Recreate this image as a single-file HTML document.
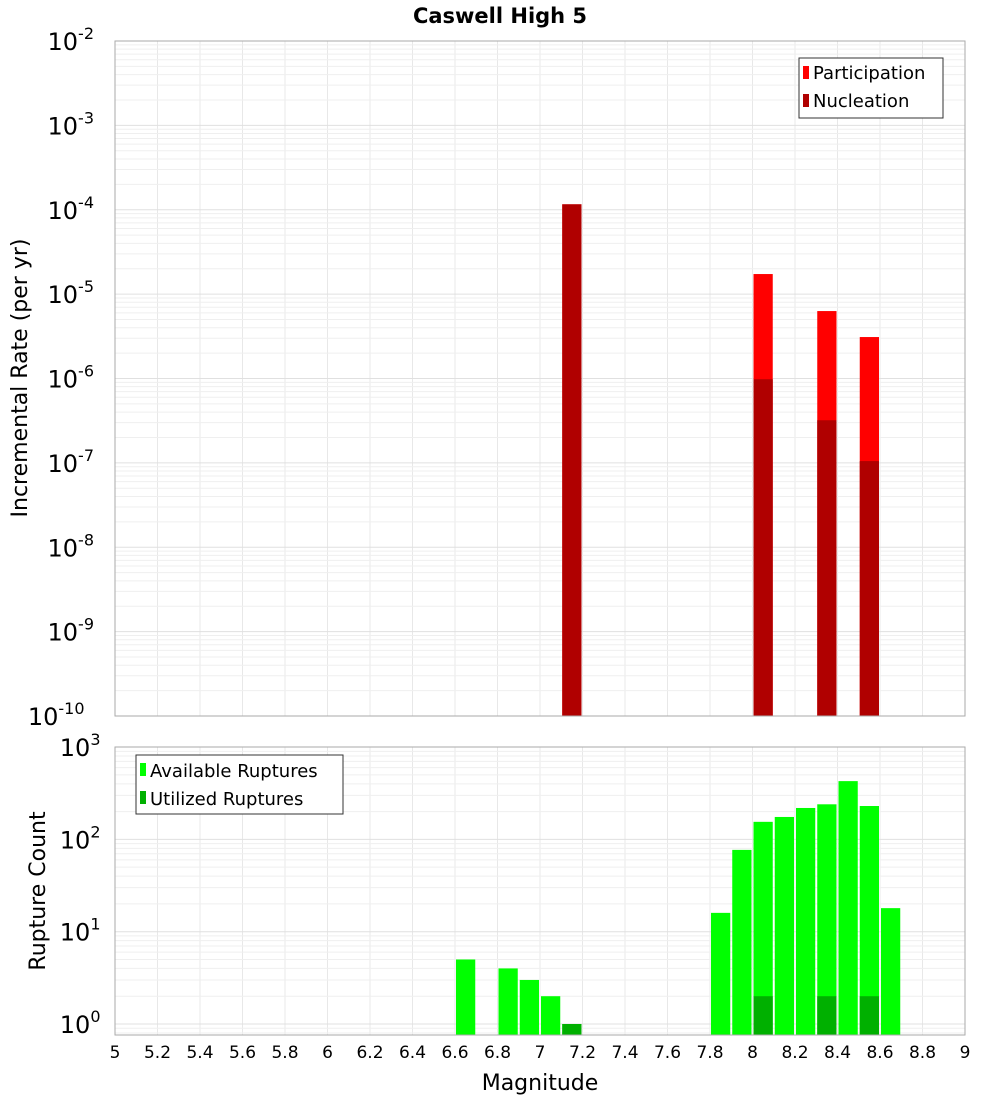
<!DOCTYPE html>
<html><head><meta charset="utf-8"><style>
body{margin:0;background:#fff;font-family:"DejaVu Sans","Liberation Sans",sans-serif}
</style></head><body>
<svg id="chart" width="1000" height="1100" xmlns="http://www.w3.org/2000/svg" font-family="DejaVu Sans, Liberation Sans, sans-serif">
<text x="500" y="23" text-anchor="middle" font-size="21" font-weight="bold">Caswell High 5</text>
<g id="grid"></g>
<g id="bars"></g>
<g id="axes"></g>
<g id="legend1">
<rect x="799" y="58" width="144" height="60" fill="#fff" stroke="#333"/>
<rect x="803" y="66" width="6" height="13" fill="#ff0000"/>
<text x="813" y="79" font-size="18">Participation</text>
<rect x="803" y="94" width="6" height="13" fill="#b00000"/>
<text x="813" y="107" font-size="18">Nucleation</text>
</g>
<g id="legend2">
<rect x="136" y="755" width="207" height="59" fill="#fff" stroke="#333"/>
<rect x="140" y="763" width="6" height="13" fill="#00ff00"/>
<text x="150" y="777" font-size="18">Available Ruptures</text>
<rect x="140" y="791" width="6" height="13" fill="#00b000"/>
<text x="150" y="805" font-size="18">Utilized Ruptures</text>
</g>
<text transform="translate(27,378) rotate(-90)" text-anchor="middle" font-size="22">Incremental Rate (per yr)</text>
<text transform="translate(45,891) rotate(-90)" text-anchor="middle" font-size="22">Rupture Count</text>
<text x="540" y="1090" text-anchor="middle" font-size="22">Magnitude</text>
</svg>
<script>
const partMags=[7.15,8.05,8.35,8.55];
const partVals=[1.16e-4,1.73e-5,6.3e-6,3.1e-6];
const nuclMags=[7.15,8.05,8.35,8.55];
const nuclVals=[1.16e-4,9.8e-7,3.2e-7,1.05e-7];
const availMags=[6.65,6.85,6.95,7.05,7.15,7.85,7.95,8.05,8.15,8.25,8.35,8.45,8.55,8.65];
const availVals=[5,4,3,2,1,16,77,155,175,219,240,428,230,18];
const utilMags=[7.15,8.05,8.35,8.55];
const utilVals=[1,2,2,2];
const xTicks=[5,5.2,5.4,5.6,5.8,6,6.2,6.4,6.6,6.8,7,7.2,7.4,7.6,7.8,8,8.2,8.4,8.6,8.8,9];
const topExps=[-10,-9,-8,-7,-6,-5,-4,-3,-2];
const botExps=[0,1,2,3];

const NS="http://www.w3.org/2000/svg";
const X0=115,X1=965;
const x=m=>X0+(m-5)/4*(X1-X0);
const T0=716,T1=41;
const yTop=v=>T0-(Math.log10(v)+10)/8*(T0-T1);
const B0=1024,BD=92.3,BT=747,BB=1035;
const yBot=v=>B0-Math.log10(v)*BD;
function mk(tag,attrs,parent){const e=document.createElementNS(NS,tag);for(const k in attrs)e.setAttribute(k,attrs[k]);document.getElementById(parent).appendChild(e);return e;}
// grid
for(const t of xTicks){
 for(const [a,b] of [[T1,T0],[BT,BB]]){const l=mk('line',{x1:x(t),x2:x(t),y1:a,y2:b,stroke:'#e8e8e8'},'grid');
 
 }
}
for(let e=-10;e<-2;e++)for(let k=1;k<10;k++){const y=yTop(k*Math.pow(10,e));const l=mk('line',{x1:X0,x2:X1,y1:y,y2:y,stroke:k==1?'#e0e0e0':'#efefef'},'grid');
 
 }
for(let e=-1;e<3;e++)for(let k=1;k<10;k++){const y=yBot(k*Math.pow(10,e));if(y>BB||y<BT)continue;const l=mk('line',{x1:X0,x2:X1,y1:y,y2:y,stroke:k==1?'#e0e0e0':'#efefef'},'grid');
 
 }
// bars
const bw=(x(5.1)-x(5))-2;
function bar(m,top,bottom,fill,name){const r=mk('rect',{x:x(m-0.05)+1,y:top,width:bw,height:bottom-top,fill:fill},'bars');
 
 }
partMags.forEach((m,i)=>bar(m,yTop(partVals[i]),T0,'#ff0000','participation-bar'));
nuclMags.forEach((m,i)=>bar(m,yTop(nuclVals[i]),T0,'#b00000','nucleation-bar'));
availMags.forEach((m,i)=>bar(m,yBot(availVals[i]),BB,'#00ff00','available-bar'));
utilMags.forEach((m,i)=>bar(m,yBot(utilVals[i]),BB,'#00b000','utilized-bar'));
// axes frames
for(const [a,b] of [[T1,T0],[BT,BB]]){const r=mk('rect',{x:X0,y:a,width:X1-X0,height:b-a,fill:'none',stroke:'#aaa'},'axes');
 
 }
// tick labels
function pow(xr,y,e,name){const t=mk('text',{x:xr,y:y,'text-anchor':'end','font-size':24},'axes');
 
 
 const s1=document.createElementNS(NS,'tspan');s1.textContent='10';t.appendChild(s1);
 const s2=document.createElementNS(NS,'tspan');s2.setAttribute('dy','-11');s2.setAttribute('font-size','16');s2.textContent=String(e);t.appendChild(s2);}
topExps.forEach(e=>{const y=yTop(Math.pow(10,e));const w=String(e).length*9.5;pow(113-w,y+9,e,'top-y-tick-label');});
botExps.forEach(e=>{const y=yBot(Math.pow(10,e));const w=String(e).length*9.5;pow(110-w,y+9,e,'bottom-y-tick-label');});
xTicks.forEach(t=>{const tx=mk('text',{x:x(t),y:1058,'text-anchor':'middle','font-size':17},'axes');
 
 
 tx.textContent=String(Math.round(t*10)/10);});
</script>
</body></html>
